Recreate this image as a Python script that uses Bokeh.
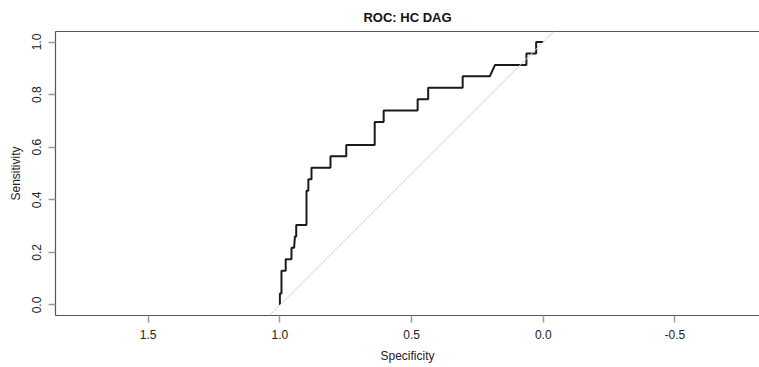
from bokeh.plotting import figure
from bokeh.models import Range1d, FixedTicker, PrintfTickFormatter, Slope, LinearAxis
from bokeh.embed import file_html
from bokeh.resources import INLINE

# ROC curve vertices: specificity and number of detected cases (out of 23)
specificity = [1.000, 1.000, 0.994, 0.994, 0.978, 0.978, 0.956, 0.956, 0.946, 0.943,
               0.938, 0.938, 0.899, 0.899, 0.892, 0.892, 0.880, 0.880, 0.808, 0.808,
               0.748, 0.748, 0.640, 0.640, 0.606, 0.606, 0.477, 0.477, 0.437, 0.437,
               0.306, 0.306, 0.203, 0.183, 0.064, 0.064, 0.027, 0.027, 0.000]
cases_detected = [0, 1, 1, 3, 3, 4, 4, 5, 5, 6,
                  6, 7, 7, 10, 10, 11, 11, 12, 12, 13,
                  13, 14, 14, 16, 16, 17, 17, 18, 18, 19,
                  19, 20, 20, 21, 21, 22, 22, 23, 23]
n_cases = 23
sensitivity = [c / n_cases for c in cases_detected]

x_ticks = [1.5, 1.0, 0.5, 0.0, -0.5]
y_ticks = [0.0, 0.2, 0.4, 0.6, 0.8, 1.0]

FONT = "Liberation Sans"
TEXT = "#222222"
FRAME = "#555555"

p = figure(width=759, height=367, output_backend="svg", toolbar_location=None,
           x_range=Range1d(1.852, -0.821), y_range=Range1d(-0.04, 1.04),
           title="ROC: HC DAG",
           min_border_left=55, min_border_right=0, min_border_top=31,
           min_border_bottom=52)

p.background_fill_color = "white"
p.border_fill_color = "white"
p.outline_line_color = None
p.grid.visible = False

p.title.align = "center"
p.title.offset = 3
p.title.standoff = 13
p.title.text_font = FONT
p.title.text_font_size = "13px"
p.title.text_font_style = "bold"
p.title.text_color = "#111111"

bottom_axis = p.below[0]
left_axis = p.left[0]

for ax, ticks, lab in ((bottom_axis, x_ticks, "Specificity"), (left_axis, y_ticks, "Sensitivity")):
    ax.ticker = FixedTicker(ticks=ticks)
    ax.formatter = PrintfTickFormatter(format="%.1f")
    ax.axis_label = lab
    ax.axis_label_text_font = FONT
    ax.axis_label_text_font_size = "12px"
    ax.axis_label_text_font_style = "normal"
    ax.axis_label_text_color = TEXT
    ax.axis_label_standoff = 7
    ax.major_label_text_font = FONT
    ax.major_label_text_font_size = "12px"
    ax.major_label_text_color = TEXT
    ax.major_label_standoff = 7
    ax.axis_line_color = FRAME
    ax.axis_line_width = 1.2
    ax.major_tick_line_color = "#9a9a9a"
    ax.major_tick_line_width = 1.5
    ax.major_tick_out = 7
    ax.major_tick_in = 0
    ax.minor_tick_line_color = None

left_axis.major_label_orientation = "vertical"

# top border of the plotting box
top_axis = LinearAxis(ticker=FixedTicker(ticks=[]), major_tick_line_color=None,
                      minor_tick_line_color=None, major_label_text_font_size="0px",
                      axis_line_color=FRAME, axis_line_width=1.2,
                      major_label_standoff=0, axis_label_standoff=0)
p.add_layout(top_axis, "above")

# chance diagonal
p.add_layout(Slope(gradient=-1, y_intercept=1, line_color="#d4d4d4", line_width=1))

p.line(specificity, sensitivity, line_color="#1a1a1a", line_width=2)

open("out.html", "w").write(file_html(p, INLINE))
